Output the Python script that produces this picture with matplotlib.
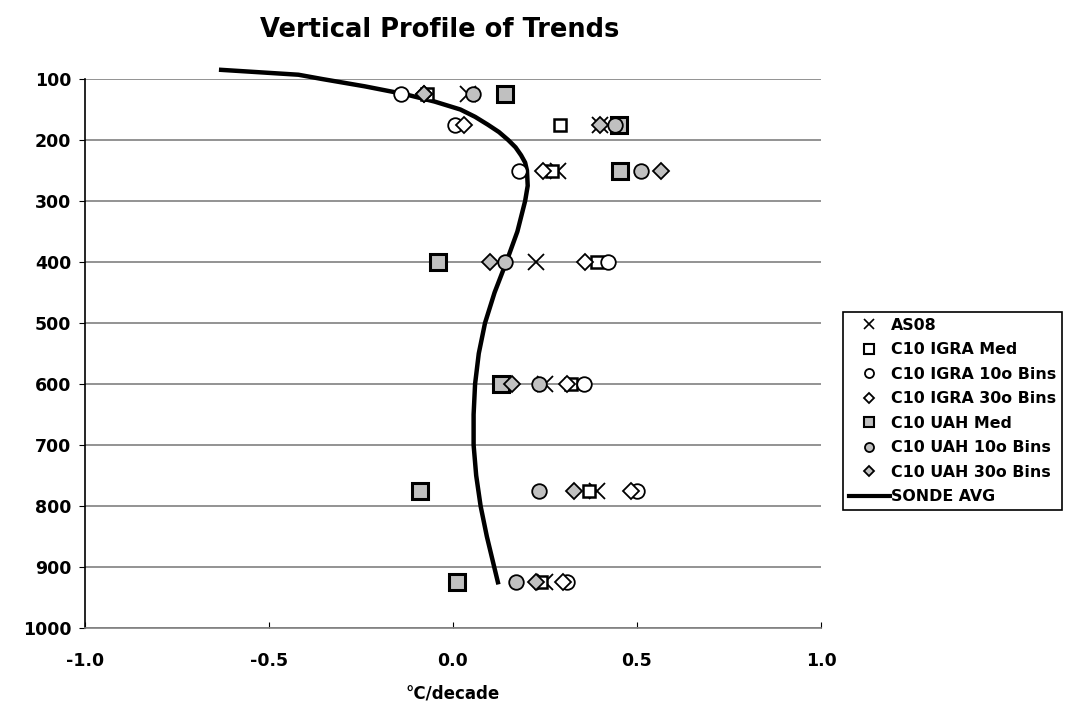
import matplotlib
matplotlib.use("Agg")
import matplotlib.pyplot as plt
from matplotlib.lines import Line2D

levels = [125, 175, 250, 400, 600, 775, 925]
as08 = [0.04, 0.40, 0.285, 0.225, 0.25, 0.39, 0.25]
igra_med = [-0.07, 0.29, 0.27, 0.39, 0.32, 0.37, 0.24]
igra_10 = [-0.14, 0.005, 0.18, 0.42, 0.355, 0.50, 0.31]
igra_30 = [-0.08, 0.03, 0.245, 0.36, 0.31, 0.485, 0.30]
uah_med = [0.14, 0.45, 0.455, -0.04, 0.13, -0.09, 0.01]
uah_10 = [0.055, 0.44, 0.51, 0.14, 0.235, 0.235, 0.17]
uah_30 = [-0.08, 0.40, 0.565, 0.10, 0.16, 0.33, 0.225]

sonde_p = [85, 93, 100, 112, 125, 137, 150, 162, 175, 187, 200, 212, 225, 237, 250,
           275, 300, 350, 400, 450, 500, 550, 600, 650, 700, 750, 800, 850, 925]
sonde_x = [-0.63, -0.42, -0.356, -0.24, -0.13, -0.05, 0.02, 0.06, 0.095, 0.125, 0.15,
           0.17, 0.185, 0.196, 0.201, 0.203, 0.196, 0.175, 0.145, 0.113, 0.087, 0.07,
           0.06, 0.056, 0.056, 0.063, 0.075, 0.092, 0.122]

xticks = [-1.0, -0.5, 0.0, 0.5, 1.0]
yticks = [100, 200, 300, 400, 500, 600, 700, 800, 900, 1000]

gray = "#c0c0c0"
plt.rcParams['font.family'] = ['DejaVu Sans']
plt.rcParams['font.weight'] = 'bold'

fig = plt.figure(figsize=(10.67, 7.03), dpi=100)
ax = fig.add_axes([85/1067, 1-628/703, (821-85)/1067, (628-79)/703])

ax.set_xlim(-1.0, 1.0)
ax.set_ylim(1000, 100)
ax.set_yticks(yticks)
ax.set_xticks(xticks)
ax.set_xticklabels([f"{t:.1f}" for t in xticks])
ax.yaxis.grid(True, color="#808080", lw=1.2)
ax.set_axisbelow(True)
for s in ["top", "right"]:
    ax.spines[s].set_visible(False)
ax.spines["left"].set_color("black")
ax.spines["bottom"].set_color("#808080")
ax.spines["left"].set_linewidth(1.2)
ax.spines["bottom"].set_linewidth(1.2)
ax.tick_params(axis="x", direction="in", length=4.5, color="black", labelsize=12.5, pad=17)
ax.tick_params(axis="y", direction="out", length=4, color="black", labelsize=12.5, pad=6)
for lab in ax.get_xticklabels() + ax.get_yticklabels():
    lab.set_fontweight("bold")

ax.plot(sonde_x, sonde_p, color="black", lw=3.2, zorder=2, clip_on=False,
        solid_joinstyle="round", label="SONDE AVG")

kw = dict(linestyle="none", zorder=3)
ax.plot(as08, levels, marker="x", ms=11.5, mew=1.3, color="black", label="AS08", **kw)
ax.plot(igra_med, levels, marker="s", ms=8, mew=1.8, mfc="white", mec="black", label="C10 IGRA Med", **kw)
ax.plot(igra_10, levels, marker="o", ms=10.5, mew=1.3, mfc="white", mec="black", label="C10 IGRA 10o Bins", **kw)
ax.plot(igra_30, levels, marker="D", ms=8, mew=1.3, mfc="white", mec="black", label="C10 IGRA 30o Bins", **kw)
ax.plot(uah_med, levels, marker="s", ms=11.5, mew=2.2, mfc=gray, mec="black", label="C10 UAH Med", **kw)
ax.plot(uah_10, levels, marker="o", ms=10.5, mew=1.3, mfc=gray, mec="black", label="C10 UAH 10o Bins", **kw)
ax.plot(uah_30, levels, marker="D", ms=8, mew=1.3, mfc=gray, mec="black", label="C10 UAH 30o Bins", **kw)

lh = [
    Line2D([], [], linestyle="none", marker="x", ms=7.5, mew=1.2, color="black"),
    Line2D([], [], linestyle="none", marker="s", ms=6.5, mew=1.5, mfc="white", mec="black"),
    Line2D([], [], linestyle="none", marker="o", ms=6.5, mew=1.3, mfc="white", mec="black"),
    Line2D([], [], linestyle="none", marker="D", ms=5.5, mew=1.3, mfc="white", mec="black"),
    Line2D([], [], linestyle="none", marker="s", ms=7.5, mew=1.5, mfc=gray, mec="black"),
    Line2D([], [], linestyle="none", marker="o", ms=6.5, mew=1.3, mfc=gray, mec="black"),
    Line2D([], [], linestyle="none", marker="D", ms=5.5, mew=1.3, mfc=gray, mec="black"),
    Line2D([], [], color="black", lw=3),
]
labels = ["AS08", "C10 IGRA Med", "C10 IGRA 10o Bins", "C10 IGRA 30o Bins",
          "C10 UAH Med", "C10 UAH 10o Bins", "C10 UAH 30o Bins", "SONDE AVG"]
leg = fig.legend(lh, labels, loc="upper left", bbox_to_anchor=(843/1067, 1-312/703),
                 frameon=True, fancybox=False, edgecolor="black", framealpha=1,
                 prop={"weight": "bold", "size": 11.4}, labelspacing=0.6,
                 handlelength=2.6, handletextpad=0.1, borderpad=0.35, borderaxespad=0)
leg.get_frame().set_linewidth(1.2)

fig.text(440/1067, 1-30/703, "Vertical Profile of Trends", ha="center", va="center",
         fontsize=18.5, fontweight="bold")
fig.text(453/1067, 1-693/703, "°C/decade", ha="center", va="center",
         fontsize=12, fontweight="bold")

fig.savefig("out.png", dpi=100)
